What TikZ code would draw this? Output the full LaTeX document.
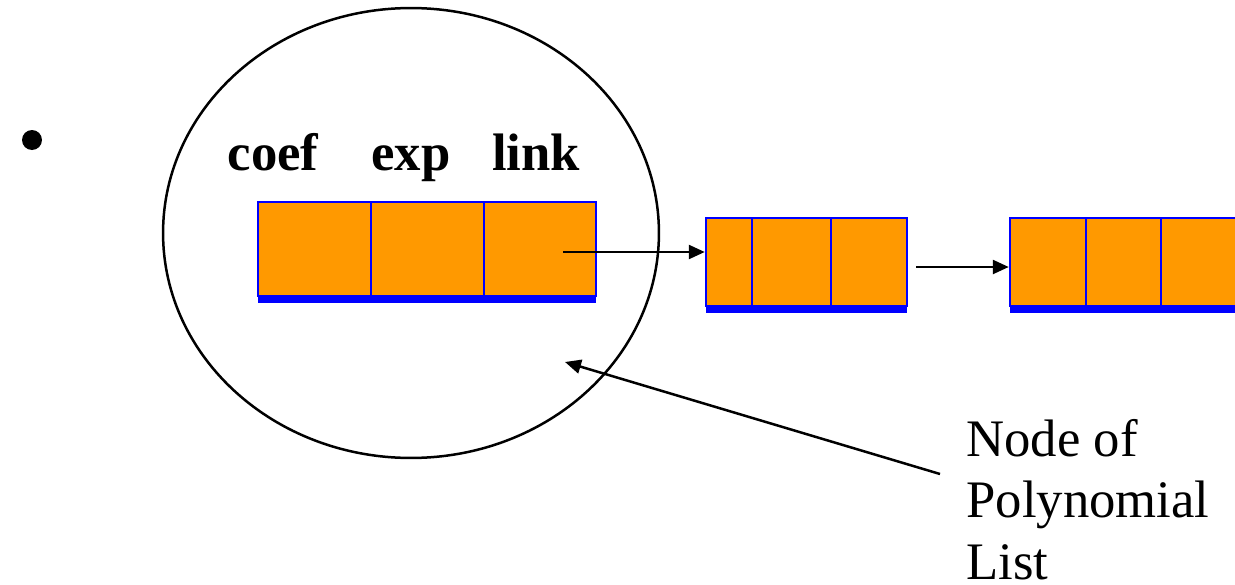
\documentclass[tikz,border=0pt]{standalone}
\usepackage{fontspec}
\setmainfont{Liberation Serif}
\usetikzlibrary{arrows.meta,shapes.geometric,fit}
\definecolor{cellorange}{HTML}{FF9900}
\definecolor{cellblue}{HTML}{0000FF}
\tikzset{
  cell/.style={draw=cellblue, fill=cellorange, line width=0.05cm, inner sep=0pt},
  bar/.style={fill=cellblue},
  link/.style={draw=black, line width=0.05cm, -{Triangle[length=0.32cm,width=0.28cm]}},
  field/.style={font=\fontsize{30}{35}\selectfont\bfseries, anchor=base, inner sep=0pt},
  note/.style={font=\fontsize{30}{35}\selectfont, align=left, anchor=base west, inner sep=0pt}
}
\begin{document}
\begin{tikzpicture}[x=0.02cm, y=-0.02cm]
\useasboundingbox (0,0) rectangle (1235,585);
\clip (0,0) rectangle (1235,585);

% bullet
\fill (32,140) circle (0.2cm);

% enclosing ellipse
\node[ellipse, draw, line width=0.05cm, minimum width=9.92cm, minimum height=9cm, inner sep=0pt] (ring) at (411,233) {};

% field labels
\node[field] (lcoef) at (273,170) {coef};
\node[field] (lexp) at (411,170) {exp};
\node[field] (llink) at (536,170) {link};

% first node
\fill[bar] (258,295) rectangle (596,303);
\node[cell, fit={(258,202) (371,296)}] (n1a) {};
\node[cell, fit={(371,202) (484,296)}] (n1b) {};
\node[cell, fit={(484,202) (596,296)}] (n1c) {};

% second node
\fill[bar] (706,305) rectangle (907,313);
\node[cell, fit={(706,218) (752,306)}] (n2a) {};
\node[cell, fit={(752,218) (831,306)}] (n2b) {};
\node[cell, fit={(831,218) (907,306)}] (n2c) {};

% third node
\fill[bar] (1010,305) rectangle (1240,313);
\node[cell, fit={(1010,218) (1086,306)}] (n3a) {};
\node[cell, fit={(1086,218) (1161,306)}] (n3b) {};
\node[cell, fit={(1161,218) (1240,306)}] (n3c) {};

% links
\coordinate (p1) at (563,252);
\coordinate (p2) at (916,267);
\draw[link] (p1) -- (p1 -| n2a.west);
\draw[link] (p2) -- (p2 -| n3a.west);

% caption and pointer
\node[note] (cap) at (966,579) {Node of\\Polynomial\\List};
\coordinate (q1) at (940,474);
\coordinate (q2) at (565,362);
\draw[link] (q1) -- (q2);
\end{tikzpicture}
\end{document}
